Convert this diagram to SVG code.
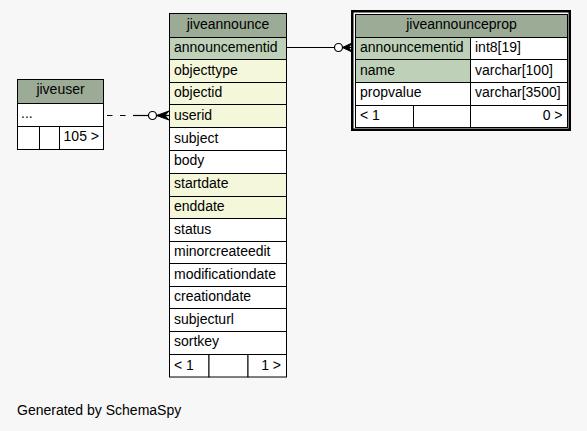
<svg xmlns="http://www.w3.org/2000/svg" width="587" height="431" viewBox="0 0 587 431">
<style>
text{font-family:"Liberation Sans",Arial,Helvetica,sans-serif;font-size:14px;fill:#000}
.c{text-anchor:middle}
.r{text-anchor:end}
rect.cell{stroke:#000;stroke-width:1}
.hd{fill:#9bab96}
.pk{fill:#bed1b8}
.ix{fill:#f4f7da}
.w{fill:#ffffff}
.edge{stroke:#000;stroke-width:1.2;fill:none}
.dash{stroke-dasharray:5.5,7.5}
</style>
<rect x="0" y="0" width="587" height="431" fill="#f7f7f7"/>
<g id="connectors">
<line class="edge" x1="287" y1="47.5" x2="334.5" y2="47.5"/>
<circle cx="338.5" cy="47.5" r="4" fill="#fff" stroke="#000" stroke-width="1.2"/>
<polygon points="342.5,47.5 352,43 348.5,47.5 352,52" fill="#000" stroke="#000" stroke-width="1"/>
<line class="edge" x1="342.5" y1="47.5" x2="352" y2="47.5"/>
<line class="edge dash" x1="107" y1="115.5" x2="133" y2="115.5"/>
<line class="edge" x1="133" y1="115.5" x2="148.5" y2="115.5"/>
<circle cx="152.5" cy="115.5" r="4" fill="#fff" stroke="#000" stroke-width="1.2"/>
<polygon points="156.5,115.5 169,111 165,115.5 169,120" fill="#000" stroke="#000" stroke-width="1"/>
<line class="edge" x1="156.5" y1="115.5" x2="169" y2="115.5"/>
</g>
<g id="jiveuser">
<rect class="cell hd" x="17.5" y="79.5" width="86" height="24"/>
<text class="c" x="60.5" y="94">jiveuser</text>
<rect class="cell w" x="17.5" y="103.5" width="86" height="23"/>
<text x="21" y="118">...</text>
<rect class="cell w" x="17.5" y="126.5" width="22" height="23"/>
<rect class="cell w" x="39.5" y="126.5" width="20" height="23"/>
<rect class="cell w" x="59.5" y="126.5" width="44" height="23"/>
<text class="r" x="99" y="141">105 &gt;</text>
</g>
<g id="jiveannounce">
<rect class="cell hd" x="169.5" y="13.5" width="117" height="24"/>
<text class="c" x="228" y="28.5">jiveannounce</text>
<rect class="cell pk" x="169.5" y="37.5" width="117" height="22"/>
<text x="174" y="52">announcementid</text>
<rect class="cell ix" x="169.5" y="59.5" width="117" height="23"/>
<text x="174" y="74.5">objecttype</text>
<rect class="cell ix" x="169.5" y="82.5" width="117" height="22"/>
<text x="174" y="97">objectid</text>
<rect class="cell ix" x="169.5" y="104.5" width="117" height="23"/>
<text x="174" y="119.5">userid</text>
<rect class="cell w" x="169.5" y="127.5" width="117" height="23"/>
<text x="174" y="142.5">subject</text>
<rect class="cell w" x="169.5" y="150.5" width="117" height="23"/>
<text x="174" y="165">body</text>
<rect class="cell ix" x="169.5" y="173.5" width="117" height="23"/>
<text x="174" y="188">startdate</text>
<rect class="cell ix" x="169.5" y="196.5" width="117" height="22"/>
<text x="174" y="211">enddate</text>
<rect class="cell w" x="169.5" y="218.5" width="117" height="23"/>
<text x="174" y="233.5">status</text>
<rect class="cell w" x="169.5" y="241.5" width="117" height="22"/>
<text x="174" y="256">minorcreateedit</text>
<rect class="cell w" x="169.5" y="263.5" width="117" height="23"/>
<text x="174" y="278.5">modificationdate</text>
<rect class="cell w" x="169.5" y="286.5" width="117" height="22"/>
<text x="174" y="301">creationdate</text>
<rect class="cell w" x="169.5" y="308.5" width="117" height="23"/>
<text x="174" y="323.5">subjecturl</text>
<rect class="cell w" x="169.5" y="331.5" width="117" height="23"/>
<text x="174" y="346">sortkey</text>
<rect class="cell w" x="169.5" y="354.5" width="39.5" height="22.5"/>
<rect class="cell w" x="209" y="354.5" width="39" height="22.5"/>
<rect class="cell w" x="248" y="354.5" width="38.5" height="22.5"/>
<text x="174" y="369.5">&lt; 1</text>
<text class="r" x="281" y="369.5">1 &gt;</text>
</g>
<g id="jiveannounceprop">
<rect x="352.25" y="11.25" width="217.5" height="118.5" fill="#fff" stroke="#000" stroke-width="2.5"/>
<rect class="cell hd" x="355.5" y="14.5" width="212" height="23"/>
<text class="c" x="461.5" y="29">jiveannounceprop</text>
<rect class="cell pk" x="355.5" y="37.5" width="115" height="22"/>
<text x="360" y="52">announcementid</text>
<rect class="cell w" x="470.5" y="37.5" width="97" height="22"/>
<text x="475" y="52">int8[19]</text>
<rect class="cell pk" x="355.5" y="59.5" width="115" height="23"/>
<text x="360" y="74.5">name</text>
<rect class="cell w" x="470.5" y="59.5" width="97" height="23"/>
<text x="475" y="74.5">varchar[100]</text>
<rect class="cell w" x="355.5" y="82.5" width="115" height="23"/>
<text x="360" y="97">propvalue</text>
<rect class="cell w" x="470.5" y="82.5" width="97" height="23"/>
<text x="475" y="97">varchar[3500]</text>
<rect class="cell w" x="355.5" y="105.5" width="58" height="22"/>
<rect class="cell w" x="413.5" y="105.5" width="57" height="22"/>
<rect class="cell w" x="470.5" y="105.5" width="97" height="22"/>
<text x="360" y="120">&lt; 1</text>
<text class="r" x="562.5" y="120">0 &gt;</text>
</g>
<text x="17" y="415">Generated by SchemaSpy</text>
</svg>
